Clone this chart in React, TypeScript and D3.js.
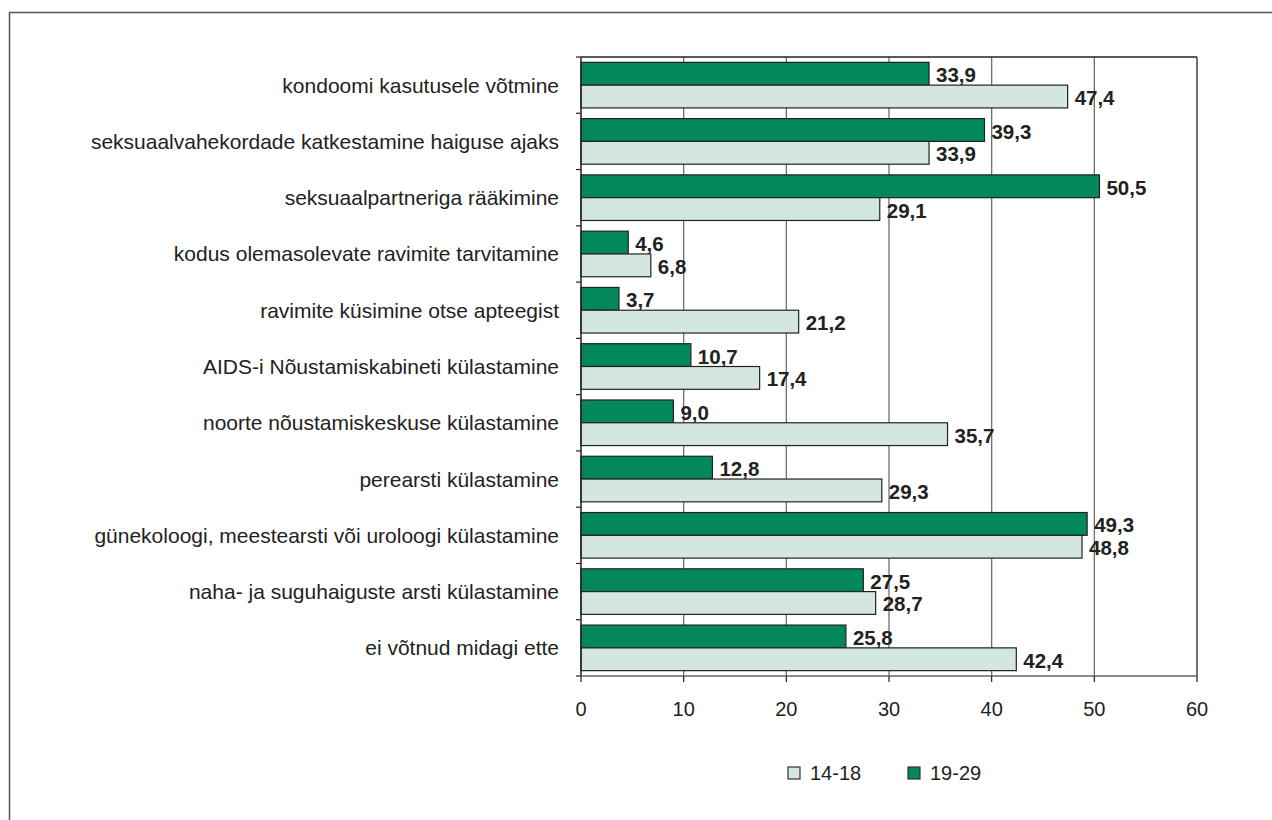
import * as d3 from "d3";

const categories = [
  "kondoomi kasutusele võtmine",
  "seksuaalvahekordade katkestamine haiguse ajaks",
  "seksuaalpartneriga rääkimine",
  "kodus olemasolevate ravimite tarvitamine",
  "ravimite küsimine otse apteegist",
  "AIDS-i Nõustamiskabineti külastamine",
  "noorte nõustamiskeskuse külastamine",
  "perearsti külastamine",
  "günekoloogi, meestearsti või uroloogi külastamine",
  "naha- ja suguhaiguste arsti külastamine",
  "ei võtnud midagi ette",
];

const values1929 = [33.9, 39.3, 50.5, 4.6, 3.7, 10.7, 9.0, 12.8, 49.3, 27.5, 25.8];
const values1418 = [47.4, 33.9, 29.1, 6.8, 21.2, 17.4, 35.7, 29.3, 48.8, 28.7, 42.4];

const xTicks = [0, 10, 20, 30, 40, 50, 60];
const seriesNames = ["19-29", "14-18"];
const legendOrder = ["14-18", "19-29"];

const WIDTH = 1272;
const HEIGHT = 820;
const MARGIN = { top: 57, right: 75, bottom: 144, left: 581 };
const DARK = "#03875c";
const LIGHT = "#d3e7e0";
const FONT = "'Liberation Sans', Arial, sans-serif";

export default function App() {
  const boundsW = WIDTH - MARGIN.left - MARGIN.right;
  const boundsH = HEIGHT - MARGIN.top - MARGIN.bottom;

  const x = d3.scaleLinear().domain([0, 60]).range([0, boundsW]);
  const y = d3
    .scaleBand()
    .domain(categories)
    .range([0, boundsH])
    .paddingInner(0.19)
    .paddingOuter(0.095);
  const ySub = d3.scaleBand().domain(seriesNames).range([0, y.bandwidth()]);
  const step = y.step();

  const color = (s: string) => (s === "19-29" ? DARK : LIGHT);

  const rows = categories.map((c, i) => ({
    name: c,
    vals: [
      { s: "19-29", v: values1929[i] },
      { s: "14-18", v: values1418[i] },
    ],
  }));

  return (
    <svg
      width={WIDTH}
      height={HEIGHT}
      style={{ position: "absolute", left: 0, top: 0, background: "#fff" }}
      fontFamily={FONT}
    >
      {/* outer frame */}
      <rect x={9.5} y={12.5} width={WIDTH} height={HEIGHT} fill="none" stroke="#555" strokeWidth={1.5} />

      <g transform={`translate(${MARGIN.left},${MARGIN.top})`}>
        {/* grid */}
        {xTicks.slice(1, -1).map((t) => (
          <line key={t} x1={x(t)} x2={x(t)} y1={0} y2={boundsH} stroke="#6f6f6f" strokeWidth={1.3} />
        ))}
        <line x1={0} x2={boundsW} y1={0} y2={0} stroke="#222" strokeWidth={1.3} />
        <line x1={boundsW} x2={boundsW} y1={0} y2={boundsH} stroke="#222" strokeWidth={1.3} />

        {/* bars */}
        {rows.map((r) => (
          <g key={r.name} transform={`translate(0,${y(r.name)})`}>
            {r.vals.map((d) => (
              <rect
                key={d.s}
                x={x(0)}
                y={ySub(d.s)}
                width={x(d.v) - x(0)}
                height={ySub.bandwidth()}
                fill={color(d.s)}
                stroke="#222"
                strokeWidth={1.2}
              />
            ))}
            {r.vals.map((d) => (
              <text
                key={"l" + d.s}
                x={x(d.v) + 7}
                y={(ySub(d.s) as number) + ySub.bandwidth() / 2 + 1}
                dominantBaseline="central"
                fontSize={20.5}
                fontWeight="bold"
                fill="#222"
              >
                {d.v.toFixed(1).replace(".", ",")}
              </text>
            ))}
            <text
              x={-22}
              y={y.bandwidth() / 2}
              textAnchor="end"
              dominantBaseline="central"
              fontSize={21}
              fill="#222"
            >
              {r.name}
            </text>
          </g>
        ))}

        {/* left axis */}
        <line x1={0} x2={0} y1={0} y2={boundsH} stroke="#222" strokeWidth={1.5} />
        {d3.range(categories.length + 1).map((i) => (
          <line key={i} x1={-5} x2={0} y1={i * step} y2={i * step} stroke="#222" strokeWidth={1.2} />
        ))}

        {/* bottom axis */}
        <line x1={0} x2={boundsW} y1={boundsH} y2={boundsH} stroke="#666" strokeWidth={1.5} />
        {xTicks.map((t) => (
          <g key={t} transform={`translate(${x(t)},${boundsH})`}>
            <line y1={0} y2={6} stroke="#222" strokeWidth={1.2} />
            <text y={33} textAnchor="middle" dominantBaseline="central" fontSize={20} fill="#222">
              {t}
            </text>
          </g>
        ))}
      </g>

      {/* legend */}
      {legendOrder.map((s, i) => (
        <g key={s} transform={`translate(${788 + i * 120},767)`}>
          <rect x={0} y={0} width={12} height={12} fill={color(s)} stroke="#333" strokeWidth={1.2} />
          <text x={22} y={6} dominantBaseline="central" fontSize={20} fill="#222">
            {s}
          </text>
        </g>
      ))}
    </svg>
  );
}
